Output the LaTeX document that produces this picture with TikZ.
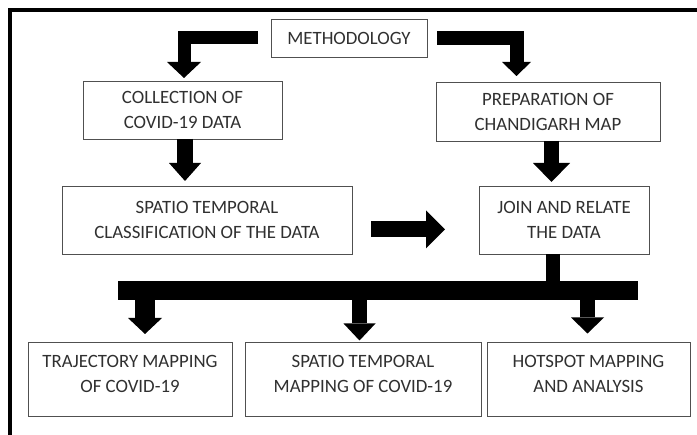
\documentclass[tikz,border=0pt]{standalone}
\usepackage{fontspec}
\setmainfont{Carlito}
\usetikzlibrary{arrows.meta,calc}
\definecolor{txt}{HTML}{303030}
\definecolor{edge}{HTML}{505050}
\begin{document}
\begin{tikzpicture}[x=1pt,y=-1pt,
  box/.style 2 args={draw=edge,line width=0.9pt,minimum width=#1,minimum height=#2,inner sep=0pt,outer sep=0pt,
    text=txt,font=\fontsize{18.8}{25}\selectfont,align=center},
  lbl/.style={text=txt,font=\fontsize{18.8}{25}\selectfont,align=center,inner sep=0pt},
  barrow/.style n args={3}{line width=#1,line join=miter,
    -{Triangle[width=#2,length=#3,line width=0pt]}},
  bar/.style={line width=#1,line join=miter}]
\useasboundingbox (0,0) rectangle (697,435);
\fill[white] (0,0) rectangle (697,435);
% outer frame
\draw[line width=4pt,line join=miter] (10.3,435) -- (10.3,10.5) -- (697,10.5);
% boxes
\node[box={156pt}{38pt}] (meth) at (349,38) {METHODOLOGY};
\node[box={199pt}{58pt}] (coll) at (182.5,110) {COLLECTION OF\\COVID-19 DATA};
\node[box={224pt}{59pt}] (prep) at (548,111.5) {PREPARATION OF\\CHANDIGARH MAP};
\node[box={290pt}{68pt}] (spat) at (207,220) {SPATIO TEMPORAL\\CLASSIFICATION OF THE DATA};
\node[box={170pt}{68pt}] (join) at (564,220) {JOIN AND RELATE\\THE DATA};
\node[box={204pt}{74pt}] (traj) at (130,379) {};
\node[box={236pt}{74pt}] (stmap) at (363,379) {};
\node[box={203pt}{74pt}] (hot) at (588.5,379) {};
\node[lbl] (trajt) at ($(traj.center)+(0,-5.5)$) {TRAJECTORY MAPPING\\OF COVID-19};
\node[lbl] (stmapt) at ($(stmap.center)+(0,-5.5)$) {SPATIO TEMPORAL\\MAPPING OF COVID-19};
\node[lbl] (hott) at ($(hot.center)+(0,-5.5)$) {HOTSPOT MAPPING\\AND ANALYSIS};
% top elbow arrows
\draw[barrow={13pt}{34pt}{16pt}] ([xshift=-13pt]meth.west) -| ($(coll.north)+(1.5,-3)$);
\coordinate (pt) at (516.5,76);
\draw[barrow={14pt}{29pt}{14pt}] ([xshift=10pt]meth.east) -| (pt);
% vertical arrows
\draw[barrow={16pt}{32pt}{18pt}] ([xshift=2.5pt]coll.south) -- ($(spat.north -| coll.south)+(2.5,-5)$);
\draw[barrow={15pt}{37pt}{19pt}] ([xshift=3.5pt]prep.south) -- ($(join.north -| prep.south)+(3.5,-4)$);
% horizontal arrow
\draw[barrow={16pt}{38pt}{19pt}] ([shift={(19pt,-9.5pt)}]spat.east) -- ([shift={(-34pt,-9.5pt)}]join.west);
% bus
\coordinate (busL) at (118,290.5);
\coordinate (busR) at (638,290.5);
\draw[bar=14pt] ([xshift=-11pt]join.south) -- ($(join.south |- busL)+(-11,0)$);
\draw[bar=19pt] (busL) -- (busR);
% drops
\draw[barrow={20pt}{34pt}{16pt}] ($(traj.north |- busL)+(15,0)$) -- ($(traj.north)+(15,-8)$);
\draw[barrow={15pt}{32pt}{17pt}] ($(stmap.north |- busL)+(-3.5,0)$) -- ($(stmap.north)+(-3.5,-1.5)$);
\draw[barrow={15pt}{33pt}{16pt}] ($(hot.north |- busL)+(-1,0)$) -- ($(hot.north)+(-1,-8.5)$);
\end{tikzpicture}
\end{document}
